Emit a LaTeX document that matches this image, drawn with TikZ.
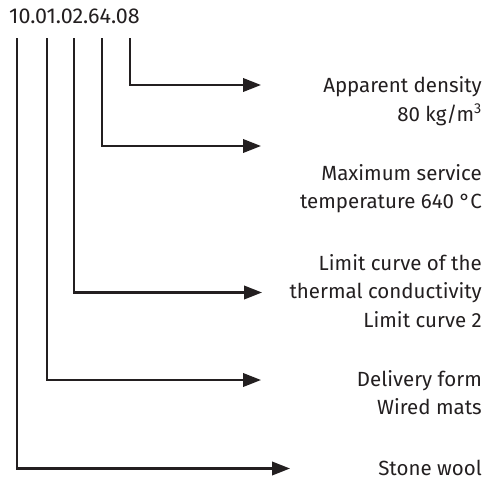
\documentclass[tikz,border=0pt]{standalone}
\usepackage{fontspec}
\setmainfont{Fira Sans}
\usetikzlibrary{arrows.meta}
\definecolor{ink}{HTML}{231F20}
\tikzset{
  conn/.style={draw=ink, line width=2.2pt, -{Triangle[length=18pt,width=13.5pt]}, line join=miter},
  lbl/.style={anchor=base east, align=right, inner sep=0pt, text=ink, font=\fontsize{20.5}{28.5}\selectfont},
  code/.style={anchor=base west, inner sep=0pt, text=ink, font=\fontsize{21.5}{24}\selectfont}
}
\begin{document}
\begin{tikzpicture}[x=1pt,y=-1pt]
\useasboundingbox (0,0) rectangle (484,480);
\node[code] (codetext) at (9,23.3) {10.01.02.64.08};
% start points under the digit groups
\coordinate (s1) at (17.3,38);
\coordinate (s2) at (46.7,38);
\coordinate (s3) at (74,38);
\coordinate (s4) at (101.7,38);
\coordinate (s5) at (130,38);
% arrow tips
\coordinate (e5) at (261,85);
\coordinate (e4) at (261,146);
\coordinate (e3) at (262,292.5);
\coordinate (e2) at (261,380);
\coordinate (e1) at (290,468.5);
\draw[conn] (s5) |- (e5);
\draw[conn] (s4) |- (e4);
\draw[conn] (s3) |- (e3);
\draw[conn] (s2) |- (e2);
\draw[conn] (s1) |- (e1);
% labels (anchor = baseline of the last line)
\node[lbl] (l5) at (482,121) {Apparent density\\80 kg/m\textsuperscript{3}};
\node[lbl] (l4) at (482,208.5) {Maximum service\\temperature 640 °C};
\node[lbl] (l3) at (482,327) {Limit curve of the\\thermal conductivity\\Limit curve 2};
\node[lbl] (l2) at (482,414.5) {Delivery form\\Wired mats};
\node[lbl] (l1) at (482,475) {Stone wool};
\end{tikzpicture}
\end{document}
